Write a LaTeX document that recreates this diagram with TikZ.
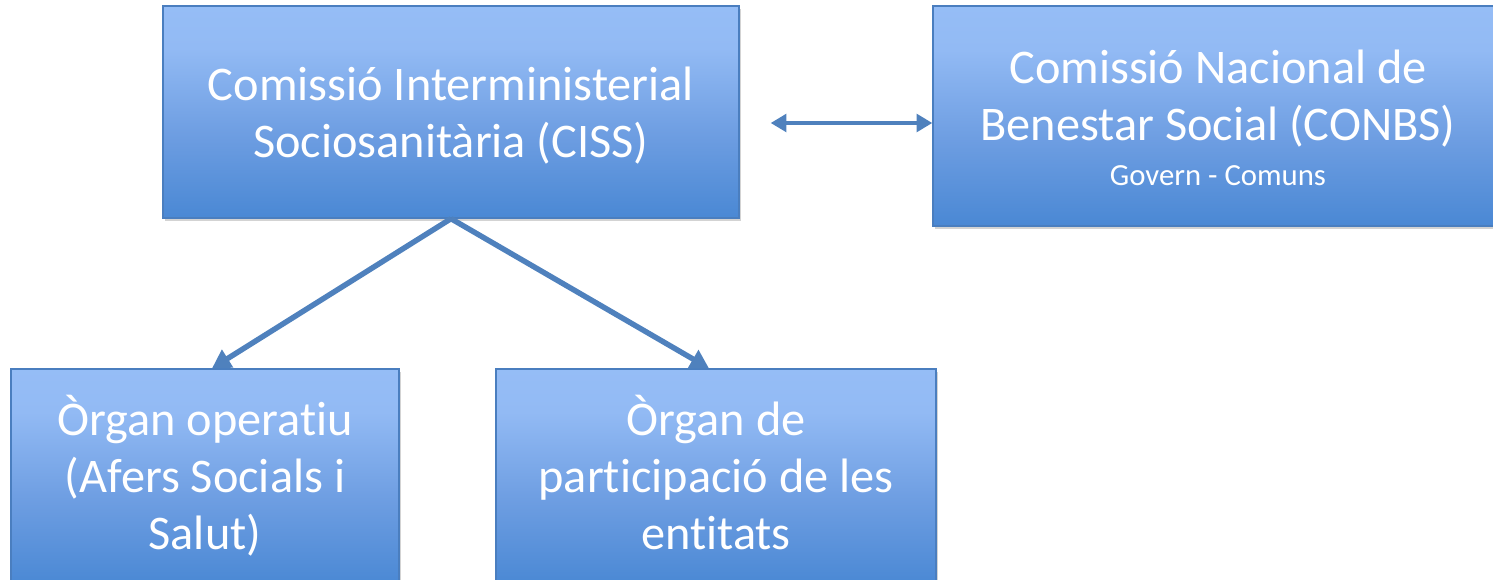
\documentclass[tikz,border=0pt]{standalone}
\usepackage{fontspec}
\setmainfont{Carlito}[RawFeature={-liga;-clig;-calt;-dlig}]
\usetikzlibrary{shadows,arrows.meta,calc}
\definecolor{boxborder}{HTML}{4A7EBF}
\definecolor{arrowblue}{HTML}{4F81BD}
\definecolor{gA}{HTML}{3E7ECB}
\definecolor{gB}{HTML}{4A88D4}
\definecolor{gC}{HTML}{6E9EE2}
\definecolor{gD}{HTML}{92BAF4}
\definecolor{gE}{HTML}{9EC4FB}
\pgfdeclareverticalshading{officeblue}{100bp}{
  color(0bp)=(gA);
  color(25bp)=(gB);
  color(45bp)=(gC);
  color(65bp)=(gD);
  color(100bp)=(gE)}
\newcommand{\btxt}[2]{\raisebox{#1}[\height][\depth]{\begin{tabular}{@{}c@{}}#2\end{tabular}}}
\tikzset{
  orgbox/.style={draw=boxborder, line width=0.8pt, shading=officeblue,
    text=white, inner sep=0pt,
    font=\fontsize{27.5}{32.5}\selectfont,
    drop shadow={opacity=0.35, shadow xshift=1.2pt, shadow yshift=-1.6pt}},
  conn/.style={draw=arrowblue, line width=3.1pt,
    -{Triangle[length=10.5pt,width=11.5pt]}},
  dblconn/.style={draw=arrowblue, line width=2.6pt,
    {Triangle[length=9pt,width=10pt]}-{Triangle[length=9pt,width=10pt]}}
}
\begin{document}
\begin{tikzpicture}[x=0.02cm,y=-0.02cm]
\useasboundingbox (0,0) rectangle (1493,580);
\begin{scope}
\clip (0,0) rectangle (1493,580);
\node[orgbox, minimum width=11.52cm, minimum height=4.24cm] (ciss) at (451,112)
  {\btxt{-3pt}{Comissió Interministerial\\Sociosanitària (CISS)}};
\node[orgbox, minimum width=11.4cm, minimum height=4.4cm] (conbs) at (1218,116)
  {\btxt{-4pt}{Comissió Nacional de\\Benestar Social (CONBS)\\[-7.3pt]{\fontsize{17.5}{21}\selectfont Govern - Comuns}}};
\node[orgbox, minimum width=7.76cm, minimum height=4.32cm] (oper) at (205,477)
  {\btxt{-2.3pt}{Òrgan operat\kern0pt iu\\(Afers Socials i\\Salut)}};
\node[orgbox, minimum width=8.8cm, minimum height=4.32cm] (part) at (716,477)
  {\btxt{-2.3pt}{Òrgan de\\part\kern0pt icipació de les\\ent\kern0pt itats}};
\draw[conn] (ciss.south) -- ($(oper.north)+(7,0)$);
\draw[conn] (ciss.south) -- ($(part.north)+(-7,0)$);
\draw[dblconn] ($(ciss.east)+(31,11)$) -- ($(conbs.west)+(0,7)$);
\end{scope}
\end{tikzpicture}
\end{document}
